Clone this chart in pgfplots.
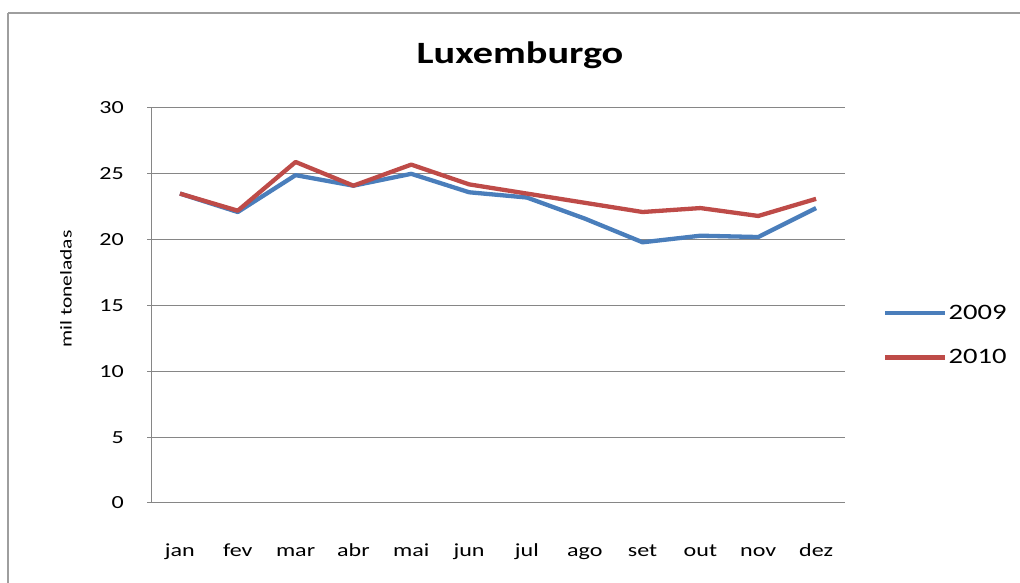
\documentclass[border=0pt]{standalone}
\usepackage{pgfplots}
\pgfplotsset{compat=1.18}
\usepackage{fontspec}
\setmainfont{Carlito}[FakeStretch=1.3]
\definecolor{serblue}{HTML}{4A7EBB}
\definecolor{serred}{HTML}{BE4B48}
\definecolor{gridgray}{HTML}{868686}
\begin{document}
\begin{tikzpicture}[x=1pt,y=1pt]
\draw[gridgray!80, line width=1.3pt] (8,570) -- (1040,570);
\draw[gridgray!80, line width=1.3pt] (8,570) -- (8,-20);
\node[font=\fontsize{31}{36}\selectfont\bfseries, anchor=base] at (520,519) {Luxemburgo};
\node[font=\fontsize{16.5}{19}\selectfont, rotate=90] at (66,294) {mil toneladas};
\begin{axis}[
  at={(151pt,80pt)}, anchor=south west,
  scale only axis, width=694pt, height=395pt,
  xmin=-0.5, xmax=11.5, ymin=0, ymax=30,
  xtick={0,...,11},
  xticklabels={jan,fev,mar,abr,mai,jun,jul,ago,set,out,nov,dez},
  ytick={0,5,...,30},
  axis x line*=bottom, axis y line*=left,
  axis line style={gridgray, line width=1pt, -},
  ymajorgrids, grid style={gridgray, line width=1pt},
  xtick style={draw=none},
  ytick style={gridgray, line width=1pt},
  tick align=outside, major tick length=4pt,
  /pgf/number format/assume math mode=true,
  tick label style={font=\fontsize{18.5}{21}\selectfont},
  yticklabel style={anchor=east, inner sep=0pt, xshift=-23pt},
  xticklabel style={anchor=base, inner sep=0pt, yshift=-50pt},
  clip=false,
  legend style={draw=none, fill=none, at={(axis description cs:1.0548,0.425)}, anchor=west,
    font=\fontsize{22}{26}\selectfont, row sep=27pt, inner sep=0pt,
    nodes={inner sep=1pt}},
  legend cell align=left,
  legend image code/.code={\draw[#1] (0pt,0pt) -- (60pt,0pt);},
]
\addplot[serblue, line width=4.3pt, line join=round] coordinates {
(0,23.5) (1,22.1) (2,24.9) (3,24.1) (4,25.0) (5,23.6) (6,23.2) (7,21.6) (8,19.8) (9,20.3) (10,20.2) (11,22.4)};
\addlegendentry{2009}
\addplot[serred, line width=4.3pt, line join=round] coordinates {
(0,23.5) (1,22.2) (2,25.9) (3,24.1) (4,25.7) (5,24.2) (6,23.5) (7,22.8) (8,22.1) (9,22.4) (10,21.8) (11,23.1)};
\addlegendentry{2010}
\end{axis}
\pgfresetboundingbox
\useasboundingbox (0,0) rectangle (1020,583);
\end{tikzpicture}
\end{document}
